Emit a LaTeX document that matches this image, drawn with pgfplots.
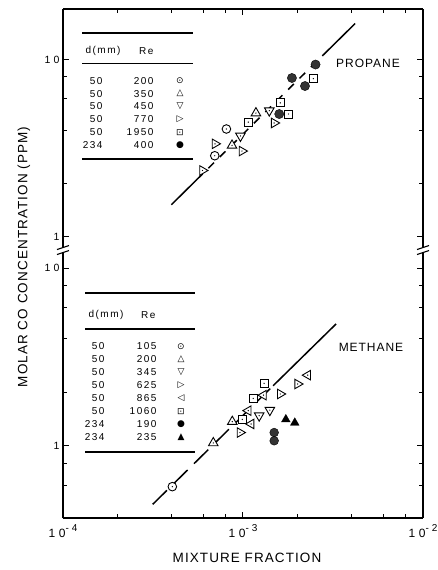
\documentclass[border=0pt]{standalone}
\usepackage{fontspec}
\setmainfont{Liberation Sans}
\newfontfamily\symfont{DejaVu Sans}
\newfontfamily\spacedfont[LetterSpace=15]{Liberation Sans}
\newfontfamily\tickfont[LetterSpace=30]{Liberation Sans}
\newfontfamily\labfont[LetterSpace=8]{Liberation Sans}
\usepackage{pgfplots}
\pgfplotsset{compat=1.18}

% open marks with a centre dot, as in the scanned figure
\newcommand\centredot{\begin{pgfscope}\pgfsetfillcolor{black}\pgfpathcircle{\pgfpointorigin}{0.7pt}\pgfusepathqfill\end{pgfscope}}
\pgfdeclareplotmark{codot}{%
  \pgfpathcircle{\pgfpointorigin}{\pgfplotmarksize}\pgfusepathqfillstroke
  \centredot}
\pgfdeclareplotmark{sqdot}{%
  \pgfpathrectangle{\pgfpoint{-\pgfplotmarksize}{-\pgfplotmarksize}}{\pgfpoint{2\pgfplotmarksize}{2\pgfplotmarksize}}\pgfusepathqfillstroke
  \centredot}
\newcommand\deftri[2]{%
  \pgfdeclareplotmark{#1}{%
    \pgfpathmoveto{\pgfpointpolar{#2}{\pgfplotmarksize}}%
    \pgfpathlineto{\pgfpointpolar{#2+120}{\pgfplotmarksize}}%
    \pgfpathlineto{\pgfpointpolar{#2+240}{\pgfplotmarksize}}%
    \pgfpathclose\pgfusepathqfillstroke
    \centredot}}
\deftri{tup}{90}
\deftri{tdown}{270}
\deftri{tright}{0}
\deftri{tleft}{180}

\tikzset{
  fitline/.style={black, line width=1.5pt},
}
\newcommand\dec[1]{10\raisebox{0.5em}{\fontsize{10}{12}\selectfont -#1}}

\begin{document}
\begin{tikzpicture}
\path[use as bounding box] (0pt,0pt) rectangle (438pt,-570pt);

% ---------------- propane (upper panel) ----------------
\begin{axis}[
  xmode=log, ymode=log,
  at={(63pt,-248pt)}, anchor=south west,
  scale only axis, width=360pt, height=239pt,
  xmin=1e-4, xmax=1e-2, ymin=0.867, ymax=19.26,
  axis x line*=top, axis y line*=box,
  axis line style={-, line width=1.2pt},
  tick align=inside, major tick length=6pt, minor tick length=4pt,
  tick style={black, line width=1pt},
  xtick={1e-4,1e-3,1e-2}, xticklabels={,,},
  minor xtick={2e-4,4e-4,6e-4,8e-4,2e-3,4e-3,6e-3,8e-3},
  ytick={1,10}, yticklabels={1,10}, yticklabel pos=left,
  minor ytick={2,4,6,8},
  ticklabel style={font=\tickfont\fontsize{10.5}{12}\selectfont},
]
\addplot[fitline, no marks] coordinates {(4.0e-4,1.52) (5.55e-4,2.11)};
\addplot[fitline, no marks, dash pattern=on 8pt off 8pt] coordinates {(5.55e-4,2.11) (2.79e-3,10.6)};
\addplot[fitline, no marks] coordinates {(2.79e-3,10.6) (4.2e-3,15.96)};
% d=50, Re=200
\addplot[only marks, mark=codot, mark size=4.3pt, mark options={fill=white, line width=0.9pt}] coordinates {(6.97e-4,2.87) (8.09e-4,4.06)};
% d=50, Re=350
\addplot[only marks, mark=tup, mark size=5.5pt, mark options={fill=white, line width=0.9pt}] coordinates {(8.69e-4,3.28) (1.18e-3,4.99)};
% d=50, Re=450
\addplot[only marks, mark=tdown, mark size=5.5pt, mark options={fill=white, line width=0.9pt}] coordinates {(9.68e-4,3.71) (1.40e-3,5.15)};
% d=50, Re=770
\addplot[only marks, mark=tright, mark size=5.5pt, mark options={fill=white, line width=0.9pt}] coordinates {(5.96e-4,2.37) (6.99e-4,3.35) (9.87e-4,3.05) (1.49e-3,4.39)};
% d=50, Re=1950
\addplot[only marks, mark=sqdot, mark size=4pt, mark options={fill=white, line width=0.9pt}] coordinates {(1.07e-3,4.44) (1.61e-3,5.70) (1.79e-3,4.93) (2.46e-3,7.80)};
% d=234, Re=400
\addplot[only marks, mark=*, mark size=4.6pt, mark options={fill=black!80, draw=black}] coordinates {(1.59e-3,4.93) (1.87e-3,7.87) (2.21e-3,7.09) (2.53e-3,9.37)};
\end{axis}

% ---------------- methane (lower panel) ----------------
\begin{axis}[
  xmode=log, ymode=log,
  at={(63pt,-518pt)}, anchor=south west,
  scale only axis, width=360pt, height=266pt,
  xmin=1e-4, xmax=1e-2, ymin=0.394, ymax=12.3,
  axis x line*=bottom, axis y line*=box,
  axis line style={-, line width=1.2pt},
  tick align=inside, major tick length=6pt, minor tick length=4pt,
  tick style={black, line width=1pt},
  xtick={1e-4,1e-3,1e-2},
  xticklabels={\dec{4},\dec{3},\dec{2}},
  minor xtick={2e-4,4e-4,6e-4,8e-4,2e-3,4e-3,6e-3,8e-3},
  ytick={1,10}, yticklabels={1,10}, yticklabel pos=left,
  minor ytick={0.6,0.8,2,4,6,8},
  ticklabel style={font=\tickfont\fontsize{10.5}{12}\selectfont},
  xticklabel style={font=\tickfont\fontsize{12}{14}\selectfont, yshift=-3pt},
]
\addplot[fitline, no marks, dash pattern=on 20pt off 9pt] coordinates {(3.15e-4,0.470) (1.47e-3,2.18)};
\addplot[fitline, no marks] coordinates {(1.47e-3,2.18) (3.29e-3,4.85)};
% d=50, Re=105
\addplot[only marks, mark=codot, mark size=4.3pt, mark options={fill=white, line width=0.9pt}] coordinates {(4.05e-4,0.591)};
% d=50, Re=200
\addplot[only marks, mark=tup, mark size=5.5pt, mark options={fill=white, line width=0.9pt}] coordinates {(6.84e-4,1.04) (8.72e-4,1.37)};
% d=50, Re=345
\addplot[only marks, mark=tdown, mark size=5.5pt, mark options={fill=white, line width=0.9pt}] coordinates {(1.23e-3,1.48) (1.41e-3,1.59)};
% d=50, Re=625
\addplot[only marks, mark=tright, mark size=5.5pt, mark options={fill=white, line width=0.9pt}] coordinates {(9.62e-4,1.19) (1.61e-3,1.96) (2.01e-3,2.23)};
% d=50, Re=865
\addplot[only marks, mark=tleft, mark size=5.5pt, mark options={fill=white, line width=0.9pt}] coordinates {(1.07e-3,1.58) (1.11e-3,1.33) (1.30e-3,1.93) (2.29e-3,2.50)};
% d=50, Re=1060
\addplot[only marks, mark=sqdot, mark size=4pt, mark options={fill=white, line width=0.9pt}] coordinates {(9.91e-4,1.41) (1.14e-3,1.85) (1.31e-3,2.25)};
% d=234, Re=190
\addplot[only marks, mark=*, mark size=4.4pt, mark options={fill=black!80, draw=black}] coordinates {(1.49e-3,1.19) (1.49e-3,1.07)};
% d=234, Re=235
\addplot[only marks, mark=tup, mark size=5pt, mark options={fill=black, draw=black}] coordinates {(1.73e-3,1.41) (1.94e-3,1.35)};
\end{axis}

\begin{scope}[x=1pt, y=-1pt]
% axis breaks
\foreach \xx in {63,423} {
  \fill[white] (\xx-4,247) rectangle (\xx+4,253);
  \draw[line width=1.1pt] (\xx-6,249.5) -- (\xx+6,245.5);
  \draw[line width=1.1pt] (\xx-6,254.5) -- (\xx+6,250.5);
}
% axis titles
\node[rotate=90, font=\labfont\fontsize{13.5}{15}\selectfont] at (24,257) {MOLAR CO CONCENTRATION (PPM)};
\node[font=\labfont\fontsize{13.5}{15}\selectfont] at (247,558) {MIXTURE FRACTION};
\node[font=\labfont\fontsize{12}{14}\selectfont] at (368,63) {PROPANE};
\node[font=\labfont\fontsize{12}{14}\selectfont] at (371,347) {METHANE};

% legend, propane
\draw[line width=1.1pt] (82,33) -- (193,33) (82,63.5) -- (193,63.5) (82,159) -- (193,159);
\node[anchor=west, font=\spacedfont\fontsize{10}{12}\selectfont] at (82,51) {d(mm)};
\node[anchor=east, font=\spacedfont\fontsize{10}{12}\selectfont] at (157,51) {Re};
\foreach \yy/\dd/\rr/\ss in {80.7/50/200/⊙, 93.6/50/350/△, 106.5/50/450/▽, 119.4/50/770/▷, 132.3/50/1950/⊡, 145.2/234/400/●} {
  \node[anchor=east, font=\spacedfont\fontsize{10}{12}\selectfont] at (106,\yy) {\dd};
  \node[anchor=east, font=\spacedfont\fontsize{10}{12}\selectfont] at (157,\yy) {\rr};
  \node[font=\symfont\fontsize{9}{10}\selectfont] at (180,\yy) {\ss};
}
% legend, methane
\draw[line width=1.1pt] (85,293) -- (195,293) (85,329) -- (195,329) (85,452) -- (195,452);
\node[anchor=west, font=\spacedfont\fontsize{10}{12}\selectfont] at (85,315) {d(mm)};
\node[anchor=east, font=\spacedfont\fontsize{10}{12}\selectfont] at (159,315) {Re};
\foreach \yy/\dd/\rr/\ss in {346.5/50/105/⊙, 359.5/50/200/△, 372.5/50/345/▽, 385.5/50/625/▷, 398.5/50/865/◁, 411.5/50/1060/⊡, 424.5/234/190/●, 437.5/234/235/▲} {
  \node[anchor=east, font=\spacedfont\fontsize{10}{12}\selectfont] at (108,\yy) {\dd};
  \node[anchor=east, font=\spacedfont\fontsize{10}{12}\selectfont] at (160,\yy) {\rr};
  \node[font=\symfont\fontsize{9}{10}\selectfont] at (181,\yy) {\ss};
}
\end{scope}
\end{tikzpicture}
\end{document}
